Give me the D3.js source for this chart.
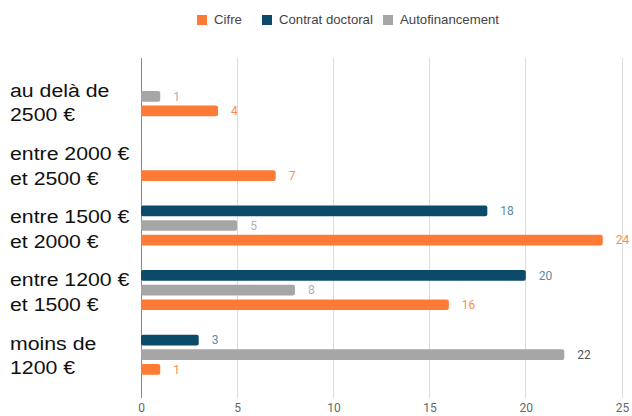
<!DOCTYPE html>
<html><head><meta charset="utf-8">
<script src="https://cdn.jsdelivr.net/npm/d3@7"></script>
<style>body{margin:0;background:#fff}svg{display:block}</style>
</head><body>
<script>
const categories = [["au delà de","2500 €"],["entre 2000 €","et 2500 €"],["entre 1500 €","et 2000 €"],["entre 1200 €","et 1500 €"],["moins de","1200 €"]];
const seriesNames = ["Cifre","Contrat doctoral","Autofinancement"];
const cifre = [4,7,24,16,1];
const contratDoctoral = [0,0,18,20,3];
const autofinancement = [1,0,5,8,22];
const xTicks = [0,5,10,15,20,25];
const colors = {"Cifre":"#ff7a35","Contrat doctoral":"#0b4a68","Autofinancement":"#a6a6a6"};
const labelColors = {"Cifre":"#ff8a50","Contrat doctoral":"#5b8ba3","Autofinancement":"#b0b0b0"};
const barOrder = ["Contrat doctoral","Autofinancement","Cifre"];
const valuesBy = {"Cifre":cifre,"Contrat doctoral":contratDoctoral,"Autofinancement":autofinancement};

const W=632,H=416;
const svg=d3.select("body").append("svg").attr("width",W).attr("height",H);
const x=d3.scaleLinear().domain([0,25]).range([141,622]);
const y=d3.scaleBand().domain(d3.range(categories.length)).range([64,387]);
const inner=d3.scaleBand().domain(barOrder).range([-20,20]).paddingInner(0.27);
const labelY=d3.scalePoint().domain(d3.range(categories.length)).range([96.5,349.5]);

// grid
svg.append("g").selectAll("line").data(xTicks).join("line")
  .attr("x1",d=>x(d)).attr("x2",d=>x(d)).attr("y1",58).attr("y2",398)
  .attr("stroke",d=>d===0?"#888":"#dcdcdc").attr("stroke-width",1).attr("shape-rendering","crispEdges");
// ticks
const ax=svg.append("g").attr("transform","translate(0,399)").call(d3.axisBottom(x).tickValues(xTicks).tickSize(0).tickPadding(4));
ax.select(".domain").remove();
ax.selectAll("text").attr("font-family","Roboto, Arial, sans-serif").attr("font-size",12).attr("fill","#666");

// category labels
const cl=svg.append("g").selectAll("g").data(categories).join("g")
  .attr("transform",(d,i)=>`translate(10,${labelY(i)}) scale(1.12,1)`);
cl.selectAll("text").data(d=>d).join("text")
  .attr("font-family","Liberation Sans, Arial, sans-serif").attr("font-size",19).attr("fill","#111")
  .attr("x",0).attr("y",(d,j)=>j*25).text(d=>d);

// bars
barOrder.forEach(s=>{
  const vals=valuesBy[s];
  const g=svg.append("g");
  vals.forEach((v,i)=>{
    if(v<=0) return;
    const cy=y(i)+y.bandwidth()/2+inner(s);
    g.append("rect").attr("x",x(0)).attr("y",cy).attr("width",x(v)-x(0)).attr("height",inner.bandwidth())
      .attr("rx",2).attr("fill",colors[s]);
    g.append("text").attr("x",x(v)+13).attr("y",cy+inner.bandwidth()/2).attr("dy","0.35em")
      .attr("font-family","Roboto, Arial, sans-serif").attr("font-size",12)
      .attr("fill",(s==="Autofinancement"&&v>=20)?"#555":labelColors[s]).text(v);
  });
});

// legend
const legendX={"Cifre":197,"Contrat doctoral":262,"Autofinancement":383};
const lg=svg.append("g");
seriesNames.forEach(s=>{
  lg.append("rect").attr("x",legendX[s]).attr("y",15).attr("width",10).attr("height",10).attr("fill",colors[s]);
  lg.append("text").attr("transform",`translate(${legendX[s]+17},20) scale(1.1,1)`).attr("dy","0.35em")
    .attr("font-family","Liberation Sans, Arial, sans-serif").attr("font-size",12).attr("fill","#444").text(s);
});
</script>
</body></html>
